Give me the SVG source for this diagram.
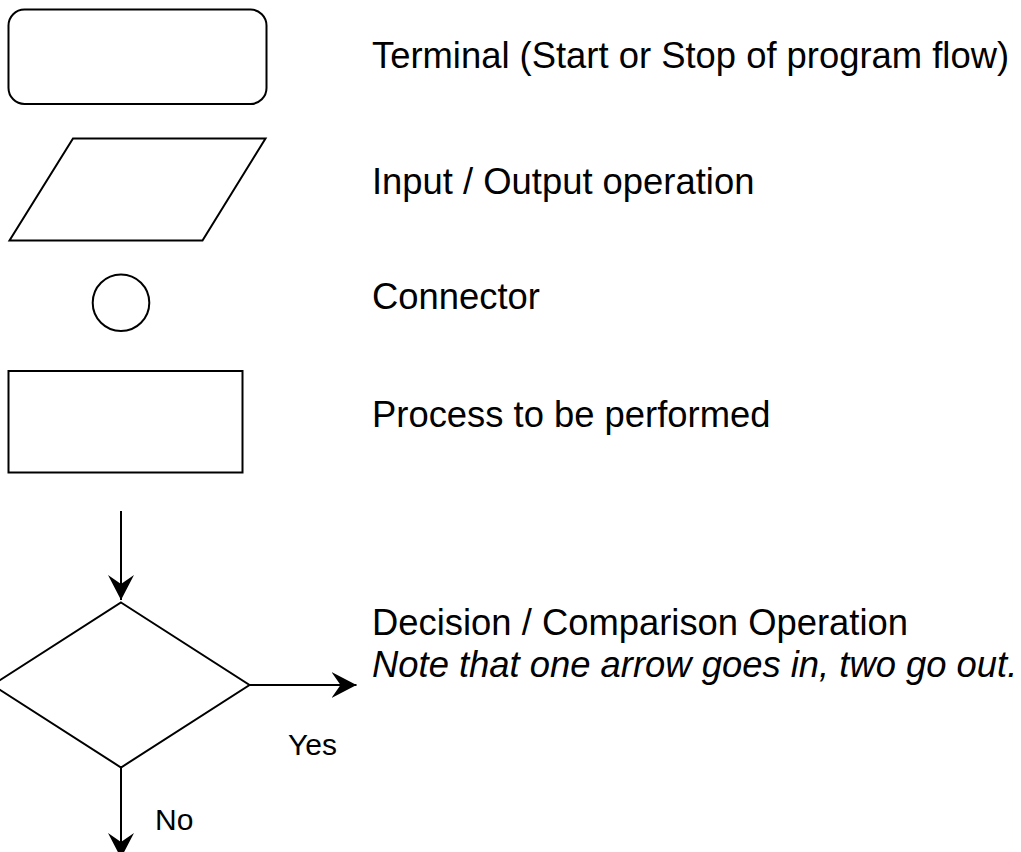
<svg xmlns="http://www.w3.org/2000/svg" width="1021" height="852" viewBox="0 0 1021 852">
  <style>
    .shape { fill: #ffffff; stroke: #000000; stroke-width: 2; }
    .edge { fill: none; stroke: #000000; stroke-width: 2; }
    .label { font-family: "Liberation Sans", Arial, sans-serif; font-size: 36.4px; fill: #000000; }
    .note { font-style: italic; }
    .small { font-family: "Liberation Sans", Arial, sans-serif; font-size: 30px; fill: #000000; }
  </style>
  <defs>
    <marker id="arrow" viewBox="0 0 26 26" refX="25" refY="13" markerWidth="26" markerHeight="26" markerUnits="userSpaceOnUse" orient="auto">
      <path d="M0,0 L25,13 L0,26 L9,13 Z" fill="#000000"/>
    </marker>
  </defs>
  <rect width="1021" height="852" fill="#ffffff"/>

  <!-- Terminal symbol -->
  <g id="terminal">
    <rect class="shape" x="8.5" y="9.5" width="258" height="94.5" rx="16" ry="16" stroke-width="2.5"/>
    <text class="label" x="372" y="68">Terminal (Start or Stop of program flow)</text>
  </g>

  <!-- Input / output symbol -->
  <g id="io">
    <polygon class="shape" points="73,138.5 265.5,138.5 202.5,240.5 9.5,240.5"/>
    <text class="label" x="372" y="194">Input / Output operation</text>
  </g>

  <!-- Connector symbol -->
  <g id="connector">
    <circle class="shape" cx="121" cy="302.7" r="28.3"/>
    <text class="label" x="372" y="309">Connector</text>
  </g>

  <!-- Process symbol -->
  <g id="process">
    <rect class="shape" x="8.5" y="371" width="234" height="101.5" stroke-width="2.5"/>
    <text class="label" x="372" y="427">Process to be performed</text>
  </g>

  <!-- Decision symbol -->
  <g id="decision">
    <polygon class="shape" points="121,602.5 249.5,685 121,767.5 -7.5,685"/>
    <text class="label" x="372" y="635">Decision / Comparison Operation</text>
    <text class="label note" x="372" y="677">Note that one arrow goes in, two go out.</text>
  </g>

  <!-- Flow lines -->
  <g id="connectors">
    <line class="edge" x1="121" y1="511" x2="121" y2="600" marker-end="url(#arrow)"/>
    <line class="edge" x1="249.5" y1="685" x2="356.5" y2="685" marker-end="url(#arrow)"/>
    <line class="edge" x1="121" y1="767.5" x2="121" y2="858" marker-end="url(#arrow)"/>
    <text class="small" x="288" y="755">Yes</text>
    <text class="small" x="155" y="830">No</text>
  </g>
</svg>
